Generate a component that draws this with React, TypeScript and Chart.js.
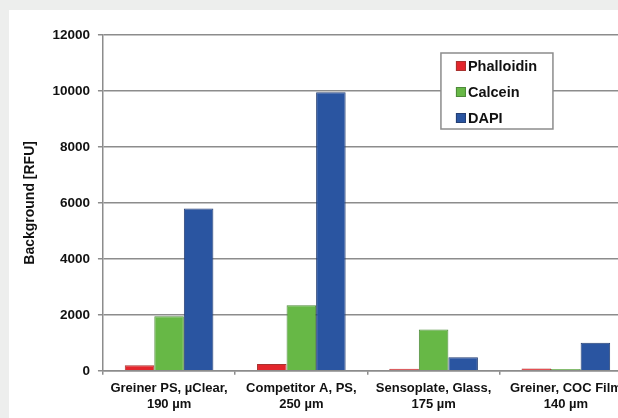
import React, { useEffect, useRef } from "react";
import { Chart, registerables } from "chart.js";

Chart.register(...registerables);

const categories: string[][] = [
  ["Greiner PS, µClear,", "190 µm"],
  ["Competitor A, PS,", "250 µm"],
  ["Sensoplate, Glass,", "175 µm"],
  ["Greiner, COC Film", "140 µm"],
];
const phalloidin = [200, 240, 70, 80];
const calcein = [1950, 2340, 1480, 60];
const dapi = [5800, 9950, 480, 1000];
const seriesNames = ["Phalloidin", "Calcein", "DAPI"];
const seriesColors = ["#e3262c", "#67b846", "#2a55a1"];
const seriesEdges = ["#a8322f", "#4e8a3a", "#253f73"];
const yTicks = [0, 2000, 4000, 6000, 8000, 10000, 12000];

const FONT = "'Liberation Sans', Arial, sans-serif";

const boxLegend = {
  id: "boxLegend",
  afterDraw(chart: any) {
    const { ctx, chartArea } = chart;
    const x = chartArea.left + 338;
    const y = chartArea.top + 18;
    const w = 112;
    const h = 76;
    ctx.save();
    ctx.fillStyle = "#ffffff";
    ctx.fillRect(x, y, w, h);
    ctx.strokeStyle = "#8c8c8c";
    ctx.lineWidth = 1.5;
    ctx.strokeRect(x, y, w, h);
    ctx.font = `bold 14.5px ${FONT}`;
    ctx.textBaseline = "middle";
    chart.data.datasets.forEach((ds: any, i: number) => {
      const cy = y + 13 + i * 26;
      ctx.fillStyle = ds.backgroundColor;
      ctx.fillRect(x + 15, cy - 5, 10, 10);
      ctx.strokeStyle = ds.borderColor;
      ctx.lineWidth = 1;
      ctx.strokeRect(x + 15.5, cy - 4.5, 9, 9);
      ctx.fillStyle = "#111111";
      ctx.fillText(ds.label, x + 27, cy + 0.5);
    });
    ctx.restore();
  },
};

export default function App() {
  const ref = useRef<HTMLCanvasElement>(null);

  useEffect(() => {
    if (!ref.current) return;
    const values = [phalloidin, calcein, dapi];
    const chart = new Chart(ref.current, {
      type: "bar",
      data: {
        labels: categories,
        datasets: seriesNames.map((name, i) => ({
          label: name,
          data: values[i],
          backgroundColor: seriesColors[i],
          borderColor: seriesEdges[i],
          borderWidth: 1,
          barPercentage: 1,
          categoryPercentage: 0.67,
        })),
      },
      options: {
        responsive: false,
        animation: false,
        layout: { padding: { left: 12.6, right: 17, top: 25, bottom: 0 } },
        plugins: {
          legend: { display: false },
          tooltip: { enabled: false },
        },
        scales: {
          x: {
            grid: {
              display: true,
              drawOnChartArea: false,
              drawTicks: true,
              tickLength: 4,
              color: "#8c8c8c",
              lineWidth: 1.5,
            },
            border: { color: "#8c8c8c", width: 1.5 },
            ticks: {
              color: "#111111",
              font: { family: FONT, size: 13, weight: "bold" },
              padding: 6,
              maxRotation: 0,
              autoSkip: false,
            },
          },
          y: {
            min: 0,
            max: 12000,
            afterBuildTicks(scale: any) {
              scale.ticks = yTicks.map((v) => ({ value: v }));
            },
            grid: {
              color: "#8c8c8c",
              lineWidth: 1.5,
              tickLength: 5,
            },
            border: { color: "#8c8c8c", width: 1.5 },
            ticks: {
              color: "#111111",
              font: { family: FONT, size: 13.5, weight: "bold" },
              padding: 8,
              callback: (v: any) => String(v),
            },
            title: {
              display: true,
              text: "Background [RFU]",
              color: "#111111",
              font: { family: FONT, size: 14, weight: "bold" },
              padding: { top: 0, bottom: 6 },
            },
          },
        },
      },
      plugins: [boxLegend],
    });
    return () => chart.destroy();
  }, []);

  return (
    <div
      style={{
        position: "fixed",
        left: 0,
        top: 0,
        width: 618,
        height: 418,
        background: "#edeeed",
        overflow: "hidden",
      }}
    >
      <div
        style={{
          position: "absolute",
          left: 9,
          top: 10,
          width: 700,
          height: 420,
          background: "#ffffff",
        }}
      >
        <canvas ref={ref} width={640} height={408} style={{ display: "block" }} />
      </div>
    </div>
  );
}
